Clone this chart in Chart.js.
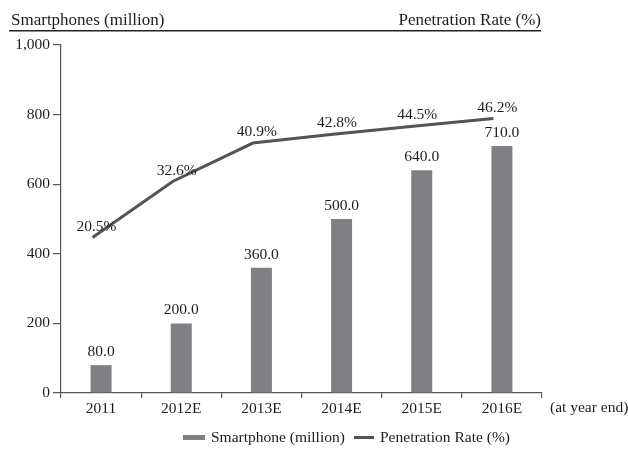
<!DOCTYPE html>
<html>
<head>
<meta charset="utf-8">
<script src="https://cdn.jsdelivr.net/npm/chart.js@4/dist/chart.umd.min.js"></script>
<style>
  html, body { margin: 0; padding: 0; background: #ffffff; }
  #wrap { width: 628px; height: 456px; }
</style>
</head>
<body>
<div id="wrap"><canvas id="c" width="628" height="456"></canvas></div>
<script>
// ---- data ----
const categories = ['2011', '2012E', '2013E', '2014E', '2015E', '2016E'];
const smartphones = [80, 200, 360, 500, 640, 710];
const penetration = [20.5, 32.6, 40.9, 42.8, 44.5, 46.2];
const yTicks = [0, 200, 400, 600, 800, 1000];
const leftTitle = 'Smartphones (million)';
const rightTitle = 'Penetration Rate (%)';
const xNote = '(at year end)';
const seriesNames = ['Smartphone (million)', 'Penetration Rate (%)'];

// ---- styles ----
const FONT = '"Liberation Serif", "Times New Roman", serif';
const TEXT = '#1f1c1d';
const BAR = '#808084';
const LINE = '#545457';

const overlay = {
  id: 'overlay',
  afterDraw(chart) {
    const ctx = chart.ctx;
    ctx.save();
    ctx.fillStyle = TEXT;
    // header
    ctx.font = '17px ' + FONT;
    ctx.textBaseline = 'alphabetic';
    ctx.textAlign = 'left';
    ctx.fillText(leftTitle, 11, 25);
    ctx.textAlign = 'right';
    ctx.fillText(rightTitle, 541, 25);
    ctx.strokeStyle = '#222';
    ctx.lineWidth = 1.4;
    ctx.beginPath();
    ctx.moveTo(9, 30.7);
    ctx.lineTo(541, 30.7);
    ctx.stroke();

    // x note
    ctx.font = '15.5px ' + FONT;
    ctx.textAlign = 'left';
    ctx.textBaseline = 'middle';
    ctx.fillText(xNote, 550, 408);

    // bar labels
    const barMeta = chart.getDatasetMeta(1);
    ctx.textAlign = 'center';
    barMeta.data.forEach((el, i) => {
      ctx.fillText(smartphones[i].toFixed(1), el.x, el.y - 13);
    });
    // line labels
    const lineMeta = chart.getDatasetMeta(0);
    lineMeta.data.forEach((el, i) => {
      ctx.fillText(penetration[i].toFixed(1) + '%', el.x + 4, el.y - 11);
    });

    // legend
    ctx.fillStyle = BAR;
    ctx.fillRect(183, 435, 22, 5);
    ctx.strokeStyle = LINE;
    ctx.lineWidth = 3;
    ctx.beginPath();
    ctx.moveTo(354, 437.5);
    ctx.lineTo(374, 437.5);
    ctx.stroke();
    ctx.fillStyle = TEXT;
    ctx.textAlign = 'left';
    ctx.textBaseline = 'middle';
    ctx.fillText(seriesNames[0], 211, 438);
    ctx.fillText(seriesNames[1], 380, 438);
    ctx.restore();
  }
};

new Chart(document.getElementById('c'), {
  type: 'bar',
  data: {
    labels: categories,
    datasets: [
      {
        type: 'line',
        label: seriesNames[1],
        data: penetration.map((v, i) => ({ x: i, y: v })),
        xAxisID: 'x1',
        yAxisID: 'y1',
        borderColor: LINE,
        backgroundColor: LINE,
        borderWidth: 3,
        pointRadius: 0,
        tension: 0,
        order: 0
      },
      {
        type: 'bar',
        label: seriesNames[0],
        data: smartphones,
        xAxisID: 'x',
        yAxisID: 'y',
        backgroundColor: BAR,
        grouped: false,
        categoryPercentage: 1,
        barPercentage: 0.262,
        order: 1
      }
    ]
  },
  options: {
    responsive: false,
    animation: false,
    devicePixelRatio: 1,
    layout: { padding: { top: 45, right: 86, bottom: 0, left: 0 } },
    plugins: { legend: { display: false }, tooltip: { enabled: false } },
    scales: {
      x: {
        type: 'category',
        offset: true,
        afterFit: s => { s.height = 63; },
        grid: { offset: true, drawOnChartArea: false, tickLength: 5, color: '#555', lineWidth: 1.2 },
        border: { color: '#555', width: 1.2 },
        ticks: { color: TEXT, font: { family: FONT, size: 15.5 }, padding: 2 }
      },
      x1: {
        type: 'linear',
        display: false,
        offset: false,
        grace: 0,
        bounds: 'data',
        min: -0.393,
        max: 5.607
      },
      y: {
        type: 'linear',
        min: 0,
        max: 1000,
        afterFit: s => { s.width = 61; },
        afterBuildTicks: s => { s.ticks = yTicks.map(v => ({ value: v })); },
        grid: { drawOnChartArea: false, tickLength: 8, color: '#555', lineWidth: 1.2 },
        border: { color: '#555', width: 1.2 },
        ticks: {
          color: TEXT,
          font: { family: FONT, size: 15.5 },
          padding: 3,
          callback: v => v.toLocaleString('en-US')
        }
      },
      y1: {
        type: 'linear',
        display: false,
        position: 'right',
        min: -13.03,
        max: 62.05
      }
    }
  },
  plugins: [overlay]
});
</script>
</body>
</html>
